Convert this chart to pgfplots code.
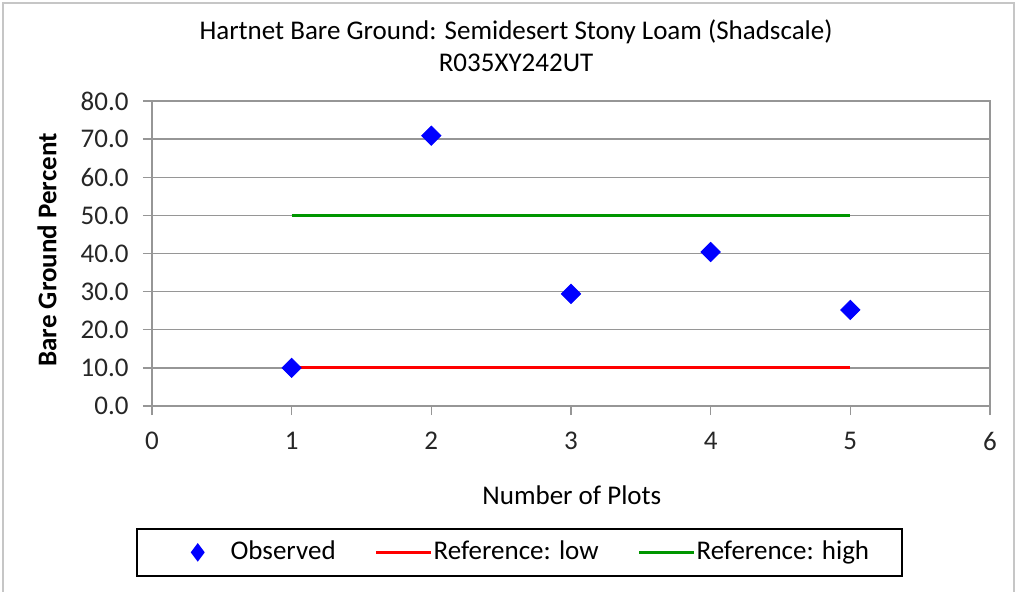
\documentclass[border=0pt]{standalone}
\usepackage{fontspec}
\setmainfont{Carlito}
\usepackage{pgfplots}
\pgfplotsset{compat=1.18}
\definecolor{gridgray}{RGB}{150,150,150}
\definecolor{refgreen}{RGB}{0,150,0}

\pgfplotsset{
    obsmark legend/.style={legend image code/.code={
        \path (0pt,0pt) (29.5pt,0pt);
        \draw[##1] plot coordinates {(14pt,0pt)};
    }},
    refline legend/.style={legend image code/.code={
        \draw[##1] (0pt,0pt) -- (27.5pt,0pt);
    }},
}

\begin{document}
\fontsize{13.5}{16}\selectfont
\begin{tikzpicture}
    \useasboundingbox (0pt,0pt) rectangle (508.5pt,-296pt);
    \draw[gray!45, line width=1pt] (1.5pt,-1.5pt) rectangle (507pt,-298pt);

    \begin{axis}[
        at={(76pt,-203pt)}, anchor=south west,
        scale only axis,
        width=419pt, height=152.5pt,
        xmin=0, xmax=6, ymin=0, ymax=80,
        xtick={0,1,...,6},
        ytick={0,10,...,80},
        xtick pos=bottom, ytick pos=left,
        tick align=outside,
        major tick length=4.5pt,
        tick style={gridgray, line width=0.7pt},
        axis line style={gridgray, line width=0.7pt},
        ymajorgrids,
        major grid style={gridgray, line width=0.7pt},
        /pgf/number format/assume math mode=true,
        yticklabel style={xshift=-2.5pt, /pgf/number format/.cd, fixed, fixed zerofill, precision=1},
        xticklabel style={yshift=-4pt},
        tick label style={font=\fontsize{13.5}{16}\selectfont, text=black!85},
        title={Hartnet Bare Ground: Semidesert Stony Loam (Shadscale)\\R035XY242UT},
        title style={at={(0.4344,1.141)}, anchor=center, align=center,
            font=\fontsize{13.5}{16}\selectfont},
        xlabel={Number of Plots},
        xlabel style={at={(0.501,-0.2918)}, anchor=center,
            font=\fontsize{13.5}{16}\selectfont},
        ylabel={Bare Ground Percent},
        ylabel style={at={(-0.1253,0.5115)}, anchor=center,
            font=\fontsize{13.5}{16}\selectfont\bfseries},
        legend columns=3,
        legend style={
            at={(0.4386,-0.480)}, anchor=center,
            draw=black, line width=0.8pt,
            inner xsep=16pt, inner ysep=4.5pt,
            nodes={inner xsep=0.5pt, inner ysep=1.5pt, anchor=west},
            font=\fontsize{13.5}{16}\selectfont,
            /tikz/every even column/.append style={column sep=19pt},
        },
    ]

    % legend entries first, so the order matches
    \addlegendimage{only marks, mark=diamond*, color=blue,
        mark size=4pt, obsmark legend}
    \addlegendentry{Observed}
    \addlegendimage{red, line width=1.5pt, refline legend}
    \addlegendentry{Reference: low}
    \addlegendimage{refgreen, line width=1.5pt, refline legend}
    \addlegendentry{Reference: high}

    % Reference: low
    \addplot[red, line width=1.5pt, forget plot] coordinates {
        (1,10)
        (5,10)
    };

    % Reference: high
    \addplot[refgreen, line width=1.5pt, forget plot] coordinates {
        (1,50)
        (5,50)
    };

    % Observed
    \addplot[only marks, mark=square*, color=blue,
        mark options={rotate=45}, mark size=3.4pt, forget plot] coordinates {
        (1,10.0)
        (2,70.9)
        (3,29.4)
        (4,40.4)
        (5,25.2)
    };

    \end{axis}
\end{tikzpicture}
\end{document}
